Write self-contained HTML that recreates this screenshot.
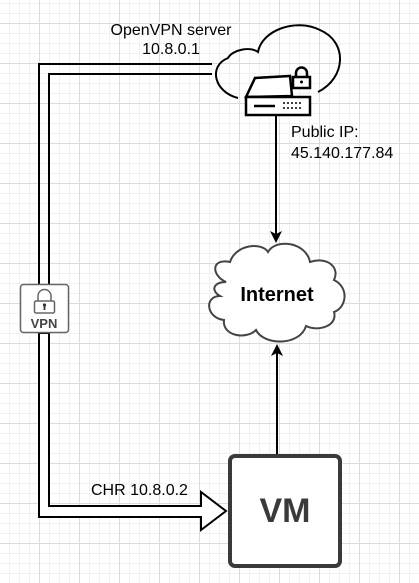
<!DOCTYPE html>
<html><head><meta charset="utf-8"><style>
html,body{margin:0;padding:0;}
body{width:419px;height:583px;overflow:hidden;background:#fff;
background-image:
linear-gradient(to right,#dcdcdc 1px,transparent 1px),
linear-gradient(to bottom,#dcdcdc 1px,transparent 1px),
linear-gradient(to right,#f1f1f1 1px,transparent 1px),
linear-gradient(to bottom,#f1f1f1 1px,transparent 1px);
background-size:40px 40px,40px 40px,10px 10px,10px 10px;
background-position:39px 23px,39px 23px,9px 3px,9px 3px;
font-family:"Liberation Sans",sans-serif;}
</style></head><body>
<svg width="419" height="583" style="position:absolute;left:0;top:0" font-family="Liberation Sans, sans-serif">
<polyline points="212,64 39,64 39,284" fill="none" stroke="#000" stroke-width="2"/>
<polyline points="212,74 49,74 49,284" fill="none" stroke="#000" stroke-width="2"/>
<polygon points="39,333 39,517 201,517 201,530 226,511 201,492 201,506 49,506 49,333" fill="#fff" stroke="#000" stroke-width="2"/>
<path d="M238,98 C214,92 208,66 228,58 C232,50 250,46 258,52 C262,30 296,18 320,30 C348,42 346,78 318,92" fill="none" stroke="#000" stroke-width="2"/>
<path d="M246,97 L255,78 L290,76 L292,96 Z" fill="#fff" stroke="#000" stroke-width="2.5"/>
<rect x="246" y="97" width="64" height="18" fill="#fff" stroke="#000" stroke-width="2.5"/>
<line x1="254" y1="106" x2="275" y2="106" stroke="#000" stroke-width="2.5"/>
<g fill="#000"><circle cx="284" cy="103" r="1"/><circle cx="288" cy="103" r="1"/><circle cx="292" cy="103" r="1"/><circle cx="296" cy="103" r="1"/><circle cx="300" cy="103" r="1"/>
<circle cx="284" cy="108" r="1"/><circle cx="288" cy="108" r="1"/><circle cx="292" cy="108" r="1"/><circle cx="296" cy="108" r="1"/><circle cx="300" cy="108" r="1"/></g>
<rect x="293" y="77" width="17" height="11" fill="#fff" stroke="#000" stroke-width="2.5"/>
<path d="M296,77 V73 A5,5 0 0 1 307,73 V77" fill="none" stroke="#000" stroke-width="2.5"/>
<circle cx="301.5" cy="82" r="1.5" fill="#000"/>
<line x1="276" y1="116" x2="276" y2="234" stroke="#000" stroke-width="2"/>
<polygon points="270,231 276,243 282,231 276,234" fill="#000"/>
<path d="M226,282 C212,276 210,258 230,262 C236,244 262,242 268,252 C276,238 306,242 310,262 C328,256 340,268 334,280 C350,288 346,308 334,312 C338,326 318,332 306,326 C300,346 264,346 256,330 C246,340 222,336 224,320 C206,318 204,296 220,296 C210,290 214,282 226,282 Z" fill="#fff" stroke="#444" stroke-width="2"/>
<text x="277" y="301" text-anchor="middle" font-size="20" font-weight="bold">Internet</text>
<line x1="277" y1="455" x2="277" y2="352" stroke="#000" stroke-width="2"/>
<polygon points="271,356 277,344 283,356 277,353" fill="#000"/>
<rect x="230" y="456" width="110" height="110" rx="5" fill="#fff" stroke="#3a3a3a" stroke-width="4"/>
<text x="285" y="522" text-anchor="middle" font-size="34" font-weight="bold" fill="#3a3a3a">VM</text>
<rect x="20.5" y="284.5" width="48" height="48" rx="3" fill="#fff" stroke="#666" stroke-width="1.5"/>
<path d="M38,301 V296 A6.5,6.5 0 0 1 51,296 V301" fill="none" stroke="#666" stroke-width="1.5"/>
<rect x="34.5" y="301" width="20" height="12" rx="1.5" fill="#fff" stroke="#666" stroke-width="1.5"/>
<circle cx="44.5" cy="305" r="1.6" fill="#333"/><rect x="43.6" y="305" width="1.8" height="5" fill="#333"/>
<text x="44" y="328" text-anchor="middle" font-size="13" font-weight="bold" fill="#444">VPN</text>
<text x="171" y="35" text-anchor="middle" font-size="16">OpenVPN server</text>
<text x="171" y="54" text-anchor="middle" font-size="16">10.8.0.1</text>
<text x="291" y="137" font-size="16">Public IP:</text>
<text x="291" y="158" font-size="16">45.140.177.84</text>
<text x="91" y="495" font-size="16">CHR 10.8.0.2</text>
</svg>
</body></html>
